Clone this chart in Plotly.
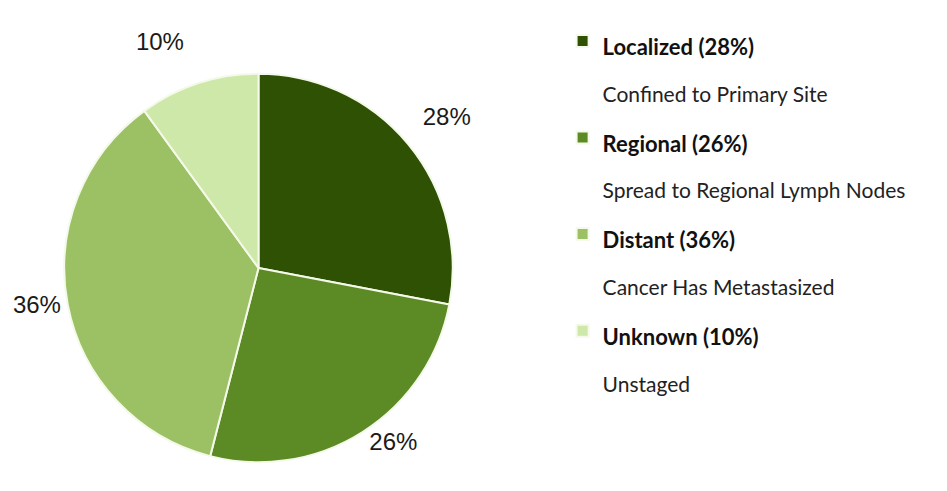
import math
import plotly.graph_objects as go

stages = ["Localized", "Regional", "Distant", "Unknown"]
descriptions = ["Confined to Primary Site", "Spread to Regional Lymph Nodes",
                "Cancer Has Metastasized", "Unstaged"]
percents = [28, 26, 36, 10]
colors = ["#2f5103", "#5c8a24", "#9cc064", "#cde8a8"]

W, H = 947, 491
cx, cy, r = 237, 260, 198

legend_labels = []
for s, d, p in zip(stages, descriptions, percents):
    legend_labels.append(
        "<b><span style='font-size:22px;color:#111111'>%s (%d%%)</span></b><br>"
        "<span style='font-size:21px;color:#222222'>%s</span>" % (s, p, d))

# labels of slices in the upper half sit a bit further out
templates = []
acc = 0
for p in percents:
    mid = (acc + p / 2) / sum(percents) * 2 * math.pi
    acc += p
    if math.cos(mid) > 0:
        templates.append("%{value}%<br> ")
    else:
        templates.append("%{value}%")

fig = go.Figure()
fig.add_trace(go.Pie(
    labels=legend_labels,
    values=percents,
    sort=False,
    direction="clockwise",
    rotation=0,
    marker=dict(colors=colors, line=dict(color="#f4f9ea", width=2)),
    textposition="outside",
    texttemplate=templates,
    textfont=dict(family="Liberation Sans, Arial, sans-serif", size=24, color="#1a1a1a"),
    hoverinfo="skip",
    domain=dict(x=[(cx - r) / W, (cx + r) / W], y=[1 - (cy + r) / H, 1 - (cy - r) / H]),
))

fig.update_layout(
    width=W, height=H,
    margin=dict(l=0, r=0, t=0, b=0),
    paper_bgcolor="white",
    plot_bgcolor="white",
    showlegend=True,
    legend=dict(
        x=547 / W, xanchor="left",
        y=1 - 3 / H, yanchor="top",
        font=dict(family="Lato, Source Sans Pro, sans-serif", size=36, color="#222222"),
        valign="top",
        bgcolor="rgba(0,0,0,0)",
    ),
)

fig.write_html("out.html")
